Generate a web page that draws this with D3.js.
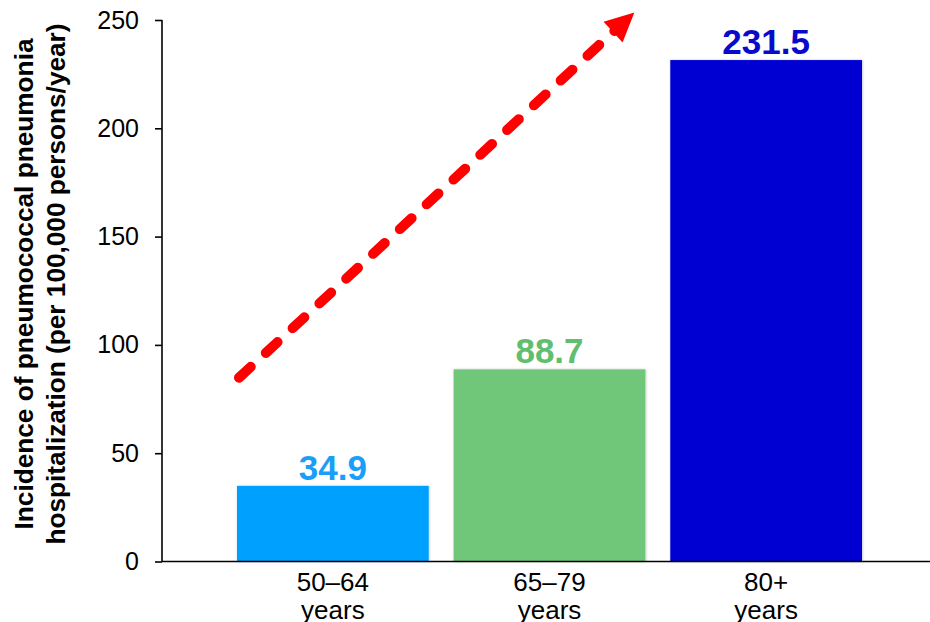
<!DOCTYPE html>
<html>
<head>
<meta charset="utf-8">
<script src="https://cdn.jsdelivr.net/npm/d3@7"></script>
<style>
  html, body { margin: 0; padding: 0; background: #fff; }
  svg { display: block; font-family: "Liberation Sans", Arial, sans-serif; }
</style>
</head>
<body>
<svg id="chart" width="930" height="622"></svg>
<script>
// Age groups (two-line labels) and hospitalization incidence per 100,000 persons/year
const categories = ["50–64|years", "65–79|years", "80+|years"];
const incidence = [34.9, 88.7, 231.5];
const barColors = ["#05A0FE", "#6FC779", "#0505D2"];
const labelColors = ["#1A9EF7", "#62BE6E", "#0A0ACB"];
const yTicks = [0, 50, 100, 150, 200, 250];
const yTitleLines = [
  "Incidence of pneumococcal pneumonia",
  "hospitalization (per 100,000 persons/year)"
];
// Trend arrow drawn in value space: from just above the first bar to past the top of the axis
const trendFrom = 83;
const trendTo = 253.5;

const svg = d3.select("#chart");
const W = 930;

const y = d3.scaleLinear().domain([0, 250]).range([561.5, 20]);
const x = d3.scaleBand()
  .domain(categories)
  .range([224.5, 874.5])
  .paddingInner(0.115)
  .paddingOuter(0.0576);

const axisX = 162;

// Soft edge shadow around the bars
const defs = svg.append("defs");
const f = defs.append("filter").attr("id", "barShadow")
  .attr("x", "-5%").attr("y", "-5%").attr("width", "110%").attr("height", "110%");
f.append("feDropShadow").attr("dx", 0.5).attr("dy", 0).attr("stdDeviation", 1.2)
  .attr("flood-color", "#000").attr("flood-opacity", 0.25);

// Bars
svg.append("g").selectAll("rect")
  .data(incidence)
  .join("rect")
  .attr("x", (d, i) => x(categories[i]))
  .attr("y", d => y(d))
  .attr("width", x.bandwidth())
  .attr("height", d => y(0) - y(d))
  .attr("fill", (d, i) => barColors[i])
  .attr("filter", "url(#barShadow)");

// Value labels
svg.append("g").selectAll("text")
  .data(incidence)
  .join("text")
  .attr("x", (d, i) => x(categories[i]) + x.bandwidth() / 2)
  .attr("y", d => y(d) - 6)
  .attr("text-anchor", "middle")
  .attr("font-size", 35)
  .attr("font-weight", "bold")
  .attr("fill", (d, i) => labelColors[i])
  .text(d => d.toFixed(1));

// Y axis
const yAxis = svg.append("g")
  .attr("transform", `translate(${axisX},0)`)
  .call(d3.axisLeft(y).tickValues(yTicks).tickSize(7).tickPadding(16).tickSizeOuter(0));
yAxis.select(".domain").attr("stroke", "#000").attr("stroke-width", 1.6)
  .attr("d", `M0,${y(250)}V${y(0)}`);
yAxis.selectAll(".tick line").attr("stroke", "#000").attr("stroke-width", 1.6);
yAxis.selectAll(".tick text")
  .attr("font-size", 25).attr("fill", "#000")
  .attr("font-family", "'Liberation Sans', Arial, sans-serif");

// X axis baseline and two-line category labels
const xAxis = svg.append("g").attr("transform", `translate(0,${y(0)})`)
  .call(d3.axisBottom(x).tickSize(0).tickPadding(0));
xAxis.select(".domain").attr("stroke", "#000").attr("stroke-width", 1.6)
  .attr("d", `M${axisX},0H${W}`);
xAxis.selectAll(".tick text").each(function(d) {
  const t = d3.select(this);
  t.text(null).attr("y", 0).attr("dy", null)
    .attr("font-size", 26).attr("fill", "#000")
    .attr("font-family", "'Liberation Sans', Arial, sans-serif");
  d.split("|").forEach((line, k) => {
    t.append("tspan").attr("x", 0).attr("y", 29 + k * 28).text(line);
  });
});

// Y axis title
const titleCenterY = 284;
const titleLengths = [491, 521];
svg.append("text")
  .attr("transform", `translate(0,${titleCenterY}) rotate(-90)`)
  .attr("text-anchor", "middle")
  .attr("font-size", 25)
  .attr("font-weight", "bold")
  .attr("fill", "#000")
  .selectAll("tspan")
  .data(yTitleLines)
  .join("tspan")
  .attr("x", 0)
  .attr("y", (d, i) => 33 + i * 32)
  .attr("textLength", (d, i) => titleLengths[i])
  .attr("lengthAdjust", "spacingAndGlyphs")
  .text(d => d);

// Dashed trend arrow
const ax0 = x(categories[0]) - 2;
const ay0 = y(trendFrom);
const ax1 = x(categories[1]) + x.bandwidth() - 11;
const ay1 = y(trendTo);
const ang = Math.atan2(ay1 - ay0, ax1 - ax0);
const headLen = 29, headHalf = 14;
const bx = ax1 - headLen * Math.cos(ang), by = ay1 - headLen * Math.sin(ang);
const nx = -Math.sin(ang), ny = Math.cos(ang);

svg.append("line")
  .attr("x1", ax0 + 4).attr("y1", ay0 - 4)
  .attr("x2", bx + 4 * Math.cos(ang)).attr("y2", by + 4 * Math.sin(ang))
  .attr("stroke", "#FF0000")
  .attr("stroke-width", 10)
  .attr("stroke-linecap", "round")
  .attr("stroke-dasharray", "16 20.5");

svg.append("path")
  .attr("d", d3.line()([
    [ax1, ay1],
    [bx + headHalf * nx, by + headHalf * ny],
    [bx - headHalf * nx, by - headHalf * ny]
  ]) + "Z")
  .attr("fill", "#FF0000");
</script>
</body>
</html>
